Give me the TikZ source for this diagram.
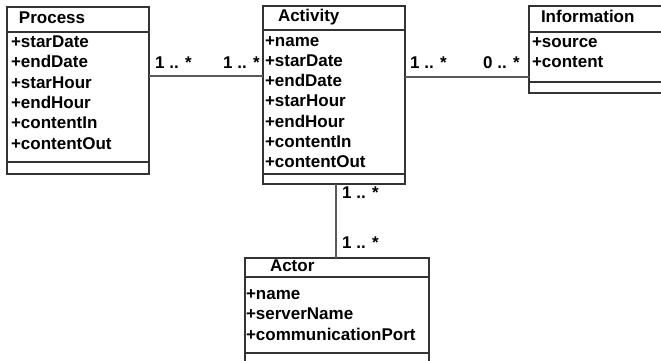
\documentclass[tikz,border=0pt]{standalone}
\usepackage{fontspec}
\setmainfont{Liberation Sans}
\usetikzlibrary{positioning}
\tikzstyle{cls}=[rectangle, draw=black!80, line width=1.6pt, outer sep=0pt, fill=white]
\tikzstyle{cname}=[cls, anchor=north west, align=left, inner ysep=0pt, text height=12pt, text depth=4pt]
\tikzstyle{attrs}=[cls, align=left, inner ysep=0pt]
\tikzstyle{ops}=[cls, inner sep=0pt]
\tikzstyle{assoc}=[-, line width=1.3pt, draw=black!65]
\tikzstyle{mult}=[inner sep=0pt, anchor=base west]

\begin{document}
\begin{tikzpicture}[x=1pt, y=1pt, font=\fontsize{17}{20.3}\selectfont\bfseries]
				\useasboundingbox (0,0) rectangle (661,-361);

				%The Process class
				\draw (7,-7) node[cname, text width=118pt, inner xsep=12pt, minimum height=25pt] (procT) {Process};
				\node[attrs, below=0pt of procT, text width=134pt, inner xsep=4pt, minimum height=130pt] (procA) {+starDate\\+endDate\\+starHour\\+endHour\\+contentIn\\+contentOut\rule[-9pt]{0pt}{9pt}};
				\node[ops, below=0pt of procA, minimum width=142pt, minimum height=12pt] (procO) {};

				%The Activity class
				\draw (263,-6) node[cname, text width=112pt, inner xsep=15pt, minimum height=24pt] (actT) {Activity};
				\node[attrs, below=0pt of actT, text width=138pt, inner xsep=2pt, minimum height=144pt] (actA) {+name\\+starDate\\+endDate\\+starHour\\+endHour\\+contentIn\\+contentOut};
				\node[ops, below=0pt of actA, minimum width=142pt, minimum height=10pt] (actO) {};

				%The Information class
				\draw (529,-6) node[cname, text width=119pt, inner xsep=12pt, minimum height=26pt] (infoT) {Information};
				\node[attrs, below=0pt of infoT, text width=137pt, inner xsep=3pt, minimum height=50pt] (infoA) {+source\\+content\rule[-9pt]{0pt}{9pt}};
				\node[ops, below=0pt of infoA, minimum width=143pt, minimum height=11pt] (infoO) {};

				%The Actor class
				\draw (245,-258) node[cname, text width=134pt, inner xsep=25pt, minimum height=19pt] (actorT) {Actor};
				\node[attrs, below=0pt of actorT, text width=182pt, inner xsep=1pt, minimum height=76pt] (actorA) {+name\\+serverName\\+communicationPort};
				\node[ops, below=0pt of actorA, minimum width=184pt, minimum height=12pt] (actorO) {};

				%The associations
				\draw[assoc] ([yshift=-44pt]procA.north east) -- ([yshift=-46pt]actA.north west);
				\draw[assoc] ([yshift=-47pt]actA.north east) -- ([yshift=-45pt]infoA.north west);
				\draw[assoc] ([xshift=2pt]actO.south) -- ([xshift=2pt]actO.south |- actorT.north);

				%The multiplicities
				\draw (155,-68) node[mult] (mProc) {1 .. *};
				\draw (223,-68) node[mult] (mActL) {1 .. *};
				\draw (410,-68) node[mult] (mActR) {1 .. *};
				\draw (483,-68) node[mult] (mInfo) {0 .. *};
				\draw (342,-198) node[mult] (mActB) {1 .. *};
				\draw (342,-248) node[mult] (mActor) {1 .. *};
			\end{tikzpicture}
\end{document}
